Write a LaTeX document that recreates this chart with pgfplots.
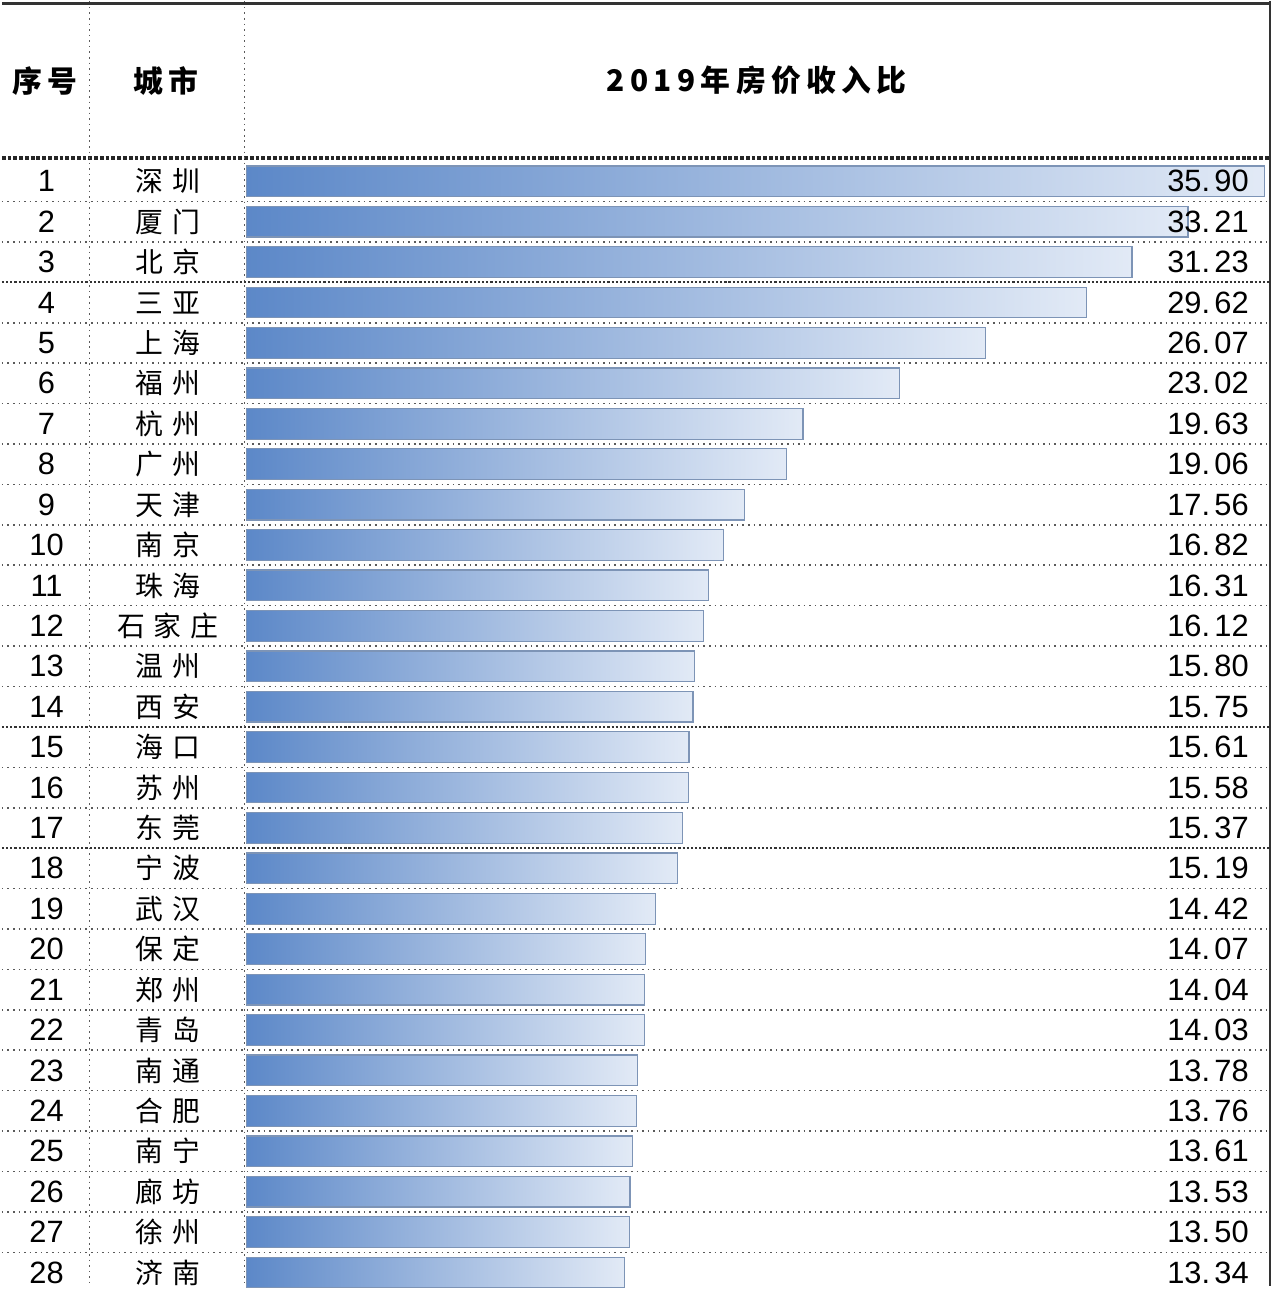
\documentclass[border=0pt]{standalone}
\usepackage{pgfplots}
\pgfplotsset{compat=1.18}
\usepackage{pgfplotstable}
\usepackage{fontspec}
\setmainfont{Liberation Sans}
\newfontfamily\cjk{Noto Sans CJK SC}[LetterSpace=30]
\newfontfamily\cjkh{Noto Sans CJK SC}[LetterSpace=18]
\definecolor{barL}{RGB}{92,136,200}
\definecolor{barR}{RGB}{226,234,246}
\definecolor{barE}{RGB}{125,148,182}
\definecolor{gridc}{RGB}{90,90,90}
\def\fmt#1.#2\relax{#1.\hspace{0.14em}#2}
\pgfplotstableread{
idx val
1 35.90
2 33.21
3 31.23
4 29.62
5 26.07
6 23.02
7 19.63
8 19.06
9 17.56
10 16.82
11 16.31
12 16.12
13 15.80
14 15.75
15 15.61
16 15.58
17 15.37
18 15.19
19 14.42
20 14.07
21 14.04
22 14.03
23 13.78
24 13.76
25 13.61
26 13.53
27 13.50
28 13.34
}\ratiotable
\begin{document}
\begin{tikzpicture}
\begin{axis}[
  width=639pt, height=646pt, scale only axis,
  xmin=-8.625, xmax=36.19,
  ymin=-3.453, ymax=28.33,
  y dir=reverse,
  axis lines=none, ticks=none,
  clip=false,
  xbar, bar width=0.76, bar shift=0pt,
]
\path (rel axis cs:0,0) rectangle (rel axis cs:1,1);
\pgfplotsinvokeforeach{0,...,27}{
  \addplot[draw=barE, line width=0.6pt, left color=barL, right color=barR,
    bar shift=0pt, x filter/.expression={\coordindex==#1 ? x : nan}]
    table[x=val, y=idx] {\ratiotable};
}
\pgfplotsinvokeforeach{1.5,2.5,4.5,5.5,6.5,7.5,8.5,9.5,10.5,11.5,12.5,13.5,15.5,16.5,18.5,19.5,20.5,21.5,22.5,23.5,24.5,25.5,26.5,27.5}{
  \draw[gridc, line width=0.8pt, dotted] (axis cs:-8.625,#1) -- (axis cs:36.1,#1);
}
\pgfplotsinvokeforeach{3.5,14.5,17.5}{
  \draw[black!80, line width=1.1pt, densely dotted] (axis cs:-8.625,#1) -- (axis cs:36.1,#1);
}
\draw[black!85, line width=1.9pt, densely dotted] (axis cs:-8.625,0.42) -- (axis cs:36.1,0.42);
\draw[gridc, line width=0.8pt, dotted] (axis cs:-5.54,-3.453) -- (axis cs:-5.54,28.33);
\draw[gridc, line width=0.8pt, dotted] (axis cs:-0.07,-3.453) -- (axis cs:-0.07,28.33);
\draw[black!80, line width=1.3pt] (axis cs:36.1,-3.453) -- (axis cs:36.1,28.33);
\draw[black!80, line width=1.6pt] (axis cs:-8.625,-3.40) -- (axis cs:36.1,-3.40);
\node[font=\cjkh\fontsize{15}{16}\selectfont\bfseries] at (axis cs:-7.1,-1.49) {序号};
\node[font=\cjkh\fontsize{15}{16}\selectfont\bfseries] at (axis cs:-2.85,-1.49) {城市};
\node[font=\cjkh\fontsize{15}{16}\selectfont\bfseries] at (axis cs:18.0,-1.49) {2019年房价收入比};
\foreach \i/\c/\v in {1/深圳/35.90,2/厦门/33.21,3/北京/31.23,4/三亚/29.62,5/上海/26.07,6/福州/23.02,7/杭州/19.63,8/广州/19.06,9/天津/17.56,10/南京/16.82,11/珠海/16.31,12/石家庄/16.12,13/温州/15.80,14/西安/15.75,15/海口/15.61,16/苏州/15.58,17/东莞/15.37,18/宁波/15.19,19/武汉/14.42,20/保定/14.07,21/郑州/14.04,22/青岛/14.03,23/南通/13.78,24/合肥/13.76,25/南宁/13.61,26/廊坊/13.53,27/徐州/13.50,28/济南/13.34}{
  \edef\temp{%
    \noexpand\node[font=\noexpand\fontsize{15.5}{16}\noexpand\selectfont] at (axis cs:-7.05,\i) {\i};
    \noexpand\node[font=\noexpand\cjk\noexpand\fontsize{14}{15}\noexpand\selectfont] at (axis cs:-2.77,\i) {\c};
    \noexpand\node[font=\noexpand\fontsize{15.5}{16}\noexpand\selectfont, anchor=east] at (axis cs:35.6,\i) {\noexpand\fmt\v\noexpand\relax};
  }\temp
}
\end{axis}
\end{tikzpicture}
\end{document}
